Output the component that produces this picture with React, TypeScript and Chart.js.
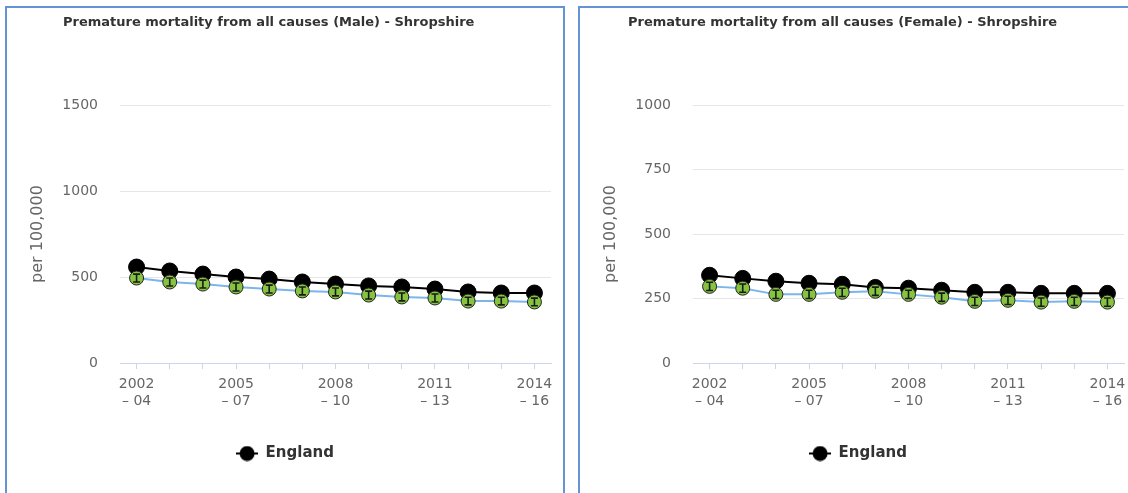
import React, { useEffect, useRef } from "react";
import { Chart, registerables } from "chart.js";

Chart.register(...registerables);

// ---------- data ----------
const periods: string[][] = [
  ["2002", "– 04"], ["2003", "– 05"], ["2004", "– 06"], ["2005", "– 07"],
  ["2006", "– 08"], ["2007", "– 09"], ["2008", "– 10"], ["2009", "– 11"],
  ["2010", "– 12"], ["2011", "– 13"], ["2012", "– 14"], ["2013", "– 15"],
  ["2014", "– 16"],
];

const englandMale = [558, 535, 517, 500, 488, 471, 459, 448, 442, 430, 413, 407, 407];
const shropshireMale = [494, 471, 459, 442, 430, 419, 413, 395, 384, 378, 360, 360, 355];
const shropshireMaleLower = [471, 448, 436, 419, 407, 396, 390, 372, 361, 355, 338, 338, 333];
const shropshireMaleUpper = [517, 494, 482, 465, 453, 442, 436, 418, 407, 401, 382, 382, 377];

const englandFemale = [340, 328, 317, 309, 305, 293, 290, 282, 274, 274, 270, 270, 270];
const shropshireFemale = [297, 290, 266, 266, 274, 278, 266, 255, 239, 243, 236, 239, 236];
const shropshireFemaleLower = [281, 274, 250, 250, 258, 262, 250, 239, 223, 227, 220, 223, 220];
const shropshireFemaleUpper = [313, 306, 282, 282, 290, 294, 282, 271, 255, 259, 252, 255, 252];

const maleTicks = { max: 1500, step: 500 };
const femaleTicks = { max: 1000, step: 250 };

const maleTitle = "Premature mortality from all causes (Male) - Shropshire";
const femaleTitle = "Premature mortality from all causes (Female) - Shropshire";

// ---------- styles ----------
const FONT = "'DejaVu Sans', sans-serif";
const GREEN = "#86c440";
const BLUE_LINE = "#7cb5ec";

function makeLegendSymbol(): HTMLCanvasElement {
  const c = document.createElement("canvas");
  c.width = 22;
  c.height = 16;
  const ctx = c.getContext("2d")!;
  ctx.strokeStyle = "#000";
  ctx.lineWidth = 2;
  ctx.beginPath();
  ctx.moveTo(0, 8);
  ctx.lineTo(22, 8);
  ctx.stroke();
  ctx.fillStyle = "#000";
  ctx.beginPath();
  ctx.arc(11, 8, 7.5, 0, Math.PI * 2);
  ctx.fill();
  return c;
}

type PanelProps = {
  england: number[];
  local: number[];
  lower: number[];
  upper: number[];
  yMax: number;
  yStep: number;
};

function MortalityChart({ england, local, lower, upper, yMax, yStep }: PanelProps) {
  const ref = useRef<HTMLCanvasElement>(null);

  useEffect(() => {
    if (!ref.current) return;
    const errorBars = {
      id: "ciBars",
      afterDatasetsDraw(chart: any) {
        const meta = chart.getDatasetMeta(0);
        const ys = chart.scales.y;
        const ctx = chart.ctx;
        ctx.save();
        ctx.strokeStyle = "#1a1a1a";
        ctx.lineWidth = 1.6;
        meta.data.forEach((pt: any, i: number) => {
          const x = pt.x;
          const yl = ys.getPixelForValue(lower[i]);
          const yu = ys.getPixelForValue(upper[i]);
          ctx.beginPath();
          ctx.moveTo(x, yu);
          ctx.lineTo(x, yl);
          ctx.moveTo(x - 3.5, yu);
          ctx.lineTo(x + 3.5, yu);
          ctx.moveTo(x - 3.5, yl);
          ctx.lineTo(x + 3.5, yl);
          ctx.stroke();
        });
        ctx.restore();
      },
    };

    const legendSymbol = makeLegendSymbol();

    const chart = new Chart(ref.current, {
      type: "line",
      data: {
        labels: periods,
        datasets: [
          {
            label: "Shropshire",
            data: local,
            borderColor: BLUE_LINE,
            borderWidth: 2,
            pointRadius: 7,
            pointBackgroundColor: GREEN,
            pointBorderColor: "#222",
            pointBorderWidth: 1,
            tension: 0,
          },
          {
            label: "England",
            data: england,
            borderColor: "#000",
            borderWidth: 2,
            pointRadius: 8,
            pointBackgroundColor: "#000",
            pointBorderColor: "#000",
            pointBorderWidth: 1,
            tension: 0,
          },
        ],
      },
      options: {
        responsive: false,
        animation: false,
        events: [],
        layout: { padding: { top: 97, right: 12, bottom: 22, left: 12 } },
        plugins: {
          title: { display: false },
          tooltip: { enabled: false },
          legend: {
            display: true,
            position: "bottom",
            labels: {
              filter: (item: any) => item.text === "England",
              usePointStyle: true,
              pointStyle: legendSymbol as any,
              pointStyleWidth: 22,
              boxHeight: 16,
              padding: 10,
              color: "#333",
              font: { family: FONT, size: 15, weight: "bold" },
            },
          },
        },
        scales: {
          x: {
            type: "category",
            offset: true,
            grid: {
              display: true,
              drawOnChartArea: false,
              drawTicks: true,
              tickLength: 6,
              color: "#ccd6eb",
              offset: false,
            },
            border: { display: true, color: "#ccd6eb", width: 1 },
            ticks: {
              autoSkip: false,
              maxRotation: 0,
              minRotation: 0,
              padding: 7,
              color: "#666",
              font: { family: FONT, size: 14, lineHeight: 1.2 },
              callback: (_v: any, i: number) => (i % 3 === 0 ? periods[i] : ""),
            },
            afterFit: (s: any) => {
              s.height = 73;
            },
          },
          y: {
            min: 0,
            max: yMax,
            grid: { color: "#e6e6e6", drawTicks: false },
            border: { display: false },
            ticks: {
              stepSize: yStep,
              padding: 22,
              color: "#666",
              font: { family: FONT, size: 14 },
              callback: (v: any) => String(v),
            },
            title: {
              display: true,
              text: "per 100,000",
              color: "#666",
              font: { family: FONT, size: 16 },
              padding: { top: 9, bottom: 0 },
            },
            afterFit: (s: any) => {
              s.width = 101;
            },
          },
        },
      },
      plugins: [errorBars],
    } as any);

    return () => chart.destroy();
  }, []);

  return <canvas ref={ref} width={556} height={485} style={{ display: "block" }} />;
}

const panelStyle = (left: number): React.CSSProperties => ({
  position: "absolute",
  left,
  top: 6,
  width: 556,
  height: 485,
  border: "2px solid #6494d6",
  background: "#fff",
});

const titleStyle = (left: number): React.CSSProperties => ({
  position: "absolute",
  left,
  top: 14,
  fontFamily: FONT,
  fontWeight: "bold",
  fontSize: 13,
  lineHeight: "16px",
  color: "#333",
  whiteSpace: "nowrap",
});

export default function App() {
  return (
    <div
      style={{
        position: "absolute",
        left: 0,
        top: 0,
        width: 1128,
        height: 493,
        overflow: "hidden",
        background: "#fff",
      }}
    >
      <div style={panelStyle(5)}>
        <MortalityChart
          england={englandMale}
          local={shropshireMale}
          lower={shropshireMaleLower}
          upper={shropshireMaleUpper}
          yMax={maleTicks.max}
          yStep={maleTicks.step}
        />
      </div>
      <div style={panelStyle(578)}>
        <MortalityChart
          england={englandFemale}
          local={shropshireFemale}
          lower={shropshireFemaleLower}
          upper={shropshireFemaleUpper}
          yMax={femaleTicks.max}
          yStep={femaleTicks.step}
        />
      </div>
      <div style={titleStyle(63)}>{maleTitle}</div>
      <div style={titleStyle(628)}>{femaleTitle}</div>
    </div>
  );
}
